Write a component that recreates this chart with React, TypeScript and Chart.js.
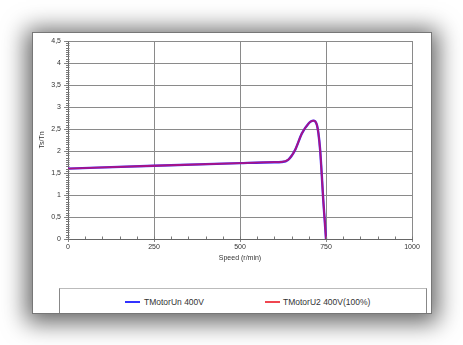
import React, { useEffect, useRef } from "react";
import { Chart, registerables } from "chart.js";

Chart.register(...registerables);

const speedRpm = [0, 250, 500, 600, 620, 640, 660, 680, 700, 707, 713, 719, 724, 728, 733, 738, 742, 746, 750];
const tMotorUn = [1.6, 1.665, 1.725, 1.745, 1.75, 1.8, 2.02, 2.4, 2.63, 2.675, 2.69, 2.67, 2.58, 2.4, 2.02, 1.42, 0.89, 0.45, 0];
const tMotorU2 = [1.6, 1.665, 1.725, 1.745, 1.75, 1.8, 2.02, 2.4, 2.63, 2.675, 2.69, 2.67, 2.58, 2.4, 2.02, 1.42, 0.89, 0.45, 0];
const seriesNames = ["TMotorUn 400V", "TMotorU2 400V(100%)"];
const xTitle = "Speed (r/min)";
const yTitle = "Ts/Tn";

const FONT = "'Liberation Sans', Arial, sans-serif";
const TEXT = "#333";
const GRID = "#8a8a8a";

const minorTicks = {
  id: "minorTicks",
  afterDraw(chart: any) {
    const ctx = chart.ctx;
    const x = chart.scales.x;
    const y = chart.scales.y;
    ctx.save();
    ctx.strokeStyle = "#777";
    ctx.lineWidth = 1;
    ctx.beginPath();
    for (let v = 0; v <= 1000; v += 50) {
      const px = Math.round(x.getPixelForValue(v)) + 0.5;
      ctx.moveTo(px, y.bottom);
      ctx.lineTo(px, y.bottom - 2.5);
    }
    for (let i = 0; i <= 90; i++) {
      const v = i * 0.05;
      const py = Math.round(y.getPixelForValue(v)) + 0.5;
      ctx.moveTo(x.left - 2, py);
      ctx.lineTo(x.left + 1.5, py);
    }
    ctx.stroke();
    ctx.restore();
  },
};

export default function App() {
  const ref = useRef<HTMLCanvasElement>(null);
  useEffect(() => {
    const chart = new Chart(ref.current as HTMLCanvasElement, {
      type: "line",
      data: {
        datasets: [
          {
            label: seriesNames[0],
            data: speedRpm.map((s, i) => ({ x: s, y: tMotorUn[i] })),
            borderColor: "rgb(60,40,255)",
            borderWidth: 2.4,
            pointRadius: 0,
            cubicInterpolationMode: "monotone",
            order: 1,
          },
          {
            label: seriesNames[1],
            data: speedRpm.map((s, i) => ({ x: s, y: tMotorU2[i] })),
            borderColor: "rgba(215,10,80,0.7)",
            borderWidth: 1.8,
            pointRadius: 0,
            cubicInterpolationMode: "monotone",
            order: 0,
          },
        ],
      },
      options: {
        animation: false,
        responsive: false,
        layout: { padding: { top: 9, right: 19, left: 0, bottom: 0 } },
        plugins: { legend: { display: false }, tooltip: { enabled: false } },
        scales: {
          x: {
            type: "linear",
            min: 0,
            max: 1000,
            afterFit: (s: any) => { s.height = 46; },
            ticks: {
              stepSize: 250,
              padding: 1,
              color: TEXT,
              font: { family: FONT, size: 7 },
              maxRotation: 0,
              callback: (v: any) => String(v),
            },
            grid: { color: GRID, lineWidth: 1, tickLength: 3 },
            border: { color: "#666" },
            title: {
              display: true,
              text: xTitle,
              color: TEXT,
              font: { family: FONT, size: 7 },
              padding: { top: 0, bottom: 23 },
            },
          },
          y: {
            min: 0,
            max: 4.5,
            afterFit: (s: any) => { s.width = 36; },
            ticks: {
              stepSize: 0.5,
              padding: 3,
              color: TEXT,
              font: { family: FONT, size: 7 },
              callback: (v: any) => String(v).replace(".", ","),
            },
            grid: { color: GRID, lineWidth: 1, tickLength: 4 },
            border: { color: "#666" },
            title: {
              display: true,
              text: yTitle,
              color: TEXT,
              font: { family: FONT, size: 7 },
              padding: { top: 6, bottom: 0 },
            },
          },
        },
      },
      plugins: [minorTicks],
    } as any);
    return () => chart.destroy();
  }, []);

  const legendText: React.CSSProperties = {
    position: "absolute",
    fontFamily: FONT,
    fontSize: 8.5,
    color: TEXT,
    lineHeight: "10px",
    whiteSpace: "nowrap",
  };

  return (
    <div style={{ position: "fixed", left: 0, top: 0, width: 463, height: 345, background: "#fff", overflow: "hidden" }}>
      <div
        style={{
          position: "absolute",
          left: 32,
          top: 32,
          width: 398,
          height: 280,
          background: "#fff",
          border: "1px solid #777",
          boxShadow: "0 3px 22px 6px rgba(0,0,0,0.6)",
          overflow: "hidden",
        }}
      >
        <canvas ref={ref} width={399} height={253} style={{ position: "absolute", left: -1, top: -1, width: 399, height: 253 }} />
        <div
          style={{
            position: "absolute",
            left: 26,
            top: 255,
            width: 366,
            height: 40,
            borderTop: "1px solid #bbb",
            borderLeft: "1px solid #888",
            borderRight: "1px solid #888",
          }}
        >
          <div style={{ position: "absolute", left: 65, top: 12, width: 15, height: 2, background: "rgb(50,50,255)" }} />
          <div style={{ ...legendText, left: 84, top: 8 }}>{seriesNames[0]}</div>
          <div style={{ position: "absolute", left: 205, top: 12, width: 15, height: 1.5, background: "rgb(240,70,80)" }} />
          <div style={{ ...legendText, left: 223, top: 8 }}>{seriesNames[1]}</div>
        </div>
      </div>
    </div>
  );
}
